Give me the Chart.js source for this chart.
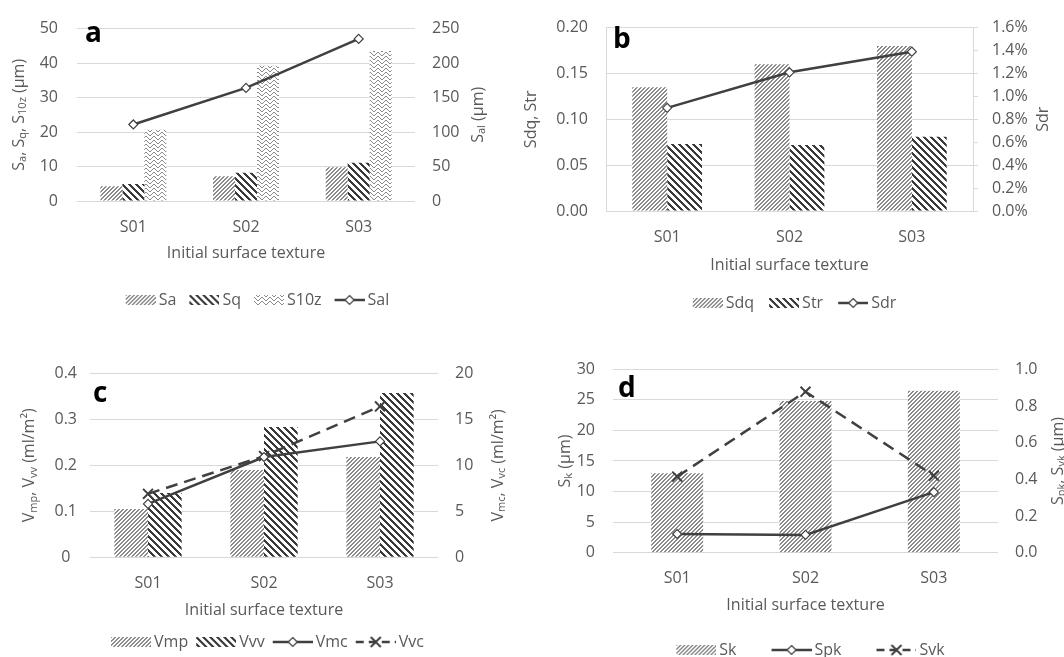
<!DOCTYPE html>
<html>
<head>
<meta charset="utf-8">
<script src="https://cdn.jsdelivr.net/npm/chart.js@4.4.1/dist/chart.umd.min.js"></script>
<style>
  html, body { margin: 0; padding: 0; background: #fff; overflow: hidden; }
  body { width: 1064px; height: 657px; position: relative; }
  canvas { position: absolute; display: block; }
</style>
</head>
<body>
<canvas id="chartA" style="left:0;top:0"></canvas>
<canvas id="chartB" style="left:520px;top:0"></canvas>
<canvas id="chartC" style="left:0;top:340px"></canvas>
<canvas id="chartD" style="left:552px;top:340px"></canvas>
<script>
const categories = ["S01", "S02", "S03"];

// panel a
const sa = [4.3, 7.2, 9.8];
const sq = [4.9, 8.2, 11.1];
const s10z = [20.7, 39.2, 43.5];
const sal = [111, 164, 235];

// panel b (sdr in %)
const sdq = [0.135, 0.160, 0.180];
const str = [0.073, 0.072, 0.081];
const sdr = [0.90, 1.21, 1.39];

// panel c
const vmp = [0.105, 0.190, 0.218];
const vvv = [0.140, 0.283, 0.357];
const vmc = [5.8, 10.9, 12.6];
const vvc = [6.9, 11.0, 16.4];

// panel d
const sk = [13.0, 24.8, 26.5];
const spk = [0.102, 0.097, 0.33];
const svk = [0.415, 0.878, 0.42];

const GRID = "#d9d9d9";
const TEXT = "#595959";
const INK = "#404040";
const FONT = '"Open Sans", "Noto Sans", sans-serif';
const FS = 16;
const LH = FS * 1.2;

Chart.defaults.font.family = FONT;
Chart.defaults.font.size = FS;
Chart.defaults.color = TEXT;

// pattern tiles, roughly like the excel fills
function tileLight() {
  const c = document.createElement("canvas");
  c.width = 4; c.height = 4;
  const g = c.getContext("2d");
  g.fillStyle = "#fff"; g.fillRect(0, 0, 4, 4);
  g.fillStyle = "#8a8a8a";
  for (let y = 0; y < 4; y++) {
    g.fillRect((3 - y) % 4, y, 1, 1);
    g.fillRect((4 - y) % 4, y, 1, 1);
  }
  return c;
}

function tileWide() {
  const p = 7;
  const c = document.createElement("canvas");
  c.width = p; c.height = p;
  const g = c.getContext("2d");
  g.fillStyle = "#fff"; g.fillRect(0, 0, p, p);
  g.fillStyle = "#3a3a3a";
  for (let y = 0; y < p; y++) {
    for (let k = 0; k < 3; k++) g.fillRect((y + k) % p, y, 1, 1);
  }
  return c;
}

function tileWave() {
  const c = document.createElement("canvas");
  c.width = 8; c.height = 4;
  const g = c.getContext("2d");
  g.fillStyle = "#fff"; g.fillRect(0, 0, 8, 4);
  g.fillStyle = "#8a8a8a";
  const ys = [1, 0, 0, 1, 2, 3, 3, 2];
  ys.forEach((y, x) => g.fillRect(x, y, 1, 1));
  return c;
}

const LIGHT = tileLight();
const WIDE = tileWide();
const WAVE = tileWave();

function drawMarker(g, kind, x, y) {
  g.save();
  g.setLineDash([]);
  if (kind === "diamond") {
    g.beginPath();
    g.moveTo(x, y - 4.5); g.lineTo(x + 4.5, y); g.lineTo(x, y + 4.5); g.lineTo(x - 4.5, y);
    g.closePath();
    g.fillStyle = "#fff"; g.fill();
    g.strokeStyle = INK; g.lineWidth = 1.2; g.stroke();
  } else {
    g.beginPath();
    g.moveTo(x - 5, y - 5); g.lineTo(x + 5, y + 5);
    g.moveTo(x - 5, y + 5); g.lineTo(x + 5, y - 5);
    g.strokeStyle = INK; g.lineWidth = 2; g.stroke();
  }
  g.restore();
}

// legend picture: shifted right so it sits next to its text
function makeIcon(spec, boxW) {
  const s = 5;
  const c = document.createElement("canvas");
  c.width = Math.round(boxW + 2 * s); c.height = 14;
  const g = c.getContext("2d");
  const x0 = 2 * s;
  if (spec.tile) {
    g.fillStyle = g.createPattern(spec.tile, "repeat");
    g.fillRect(x0, 2, boxW, 10);
  } else {
    g.strokeStyle = INK; g.lineWidth = 2.5;
    g.setLineDash(spec.dash || []);
    g.beginPath(); g.moveTo(x0, 7); g.lineTo(x0 + boxW, 7); g.stroke();
    drawMarker(g, spec.marker, x0 + boxW / 2, 7);
  }
  return c;
}

function drawRuns(ctx, cx, cy, runs) {
  ctx.save();
  ctx.translate(cx, cy);
  ctx.rotate(-Math.PI / 2);
  ctx.fillStyle = TEXT;
  ctx.textBaseline = "middle";
  ctx.textAlign = "left";
  const main = FS + "px " + FONT, sub = "11px " + FONT;
  let total = 0;
  runs.forEach(r => { ctx.font = r[1] ? sub : main; total += ctx.measureText(r[0]).width; });
  let x = -total / 2;
  runs.forEach(r => {
    ctx.font = r[1] ? sub : main;
    ctx.fillText(r[0], x, r[1] ? 4 : 0);
    x += ctx.measureText(r[0]).width;
  });
  ctx.restore();
}

const axisTitles = {
  id: "axisTitles",
  afterDraw(chart, args, opts) {
    const ctx = chart.ctx;
    const a = chart.chartArea;
    const cy = (a.top + a.bottom) / 2;
    drawRuns(ctx, opts.leftX, cy, opts.left);
    drawRuns(ctx, opts.rightX, cy, opts.right);
    ctx.save();
    ctx.font = "bold 28px " + FONT;
    ctx.fillStyle = "#000";
    ctx.textBaseline = "alphabetic";
    ctx.fillText(opts.letter, opts.letterX, opts.letterY);
    ctx.restore();
  }
};

function barSet(label, data, tile) {
  return { type: "bar", label, data, yAxisID: "y", order: 1, borderWidth: 0, _tile: tile };
}

function lineSet(label, data, dashed) {
  return {
    type: "line", label, data, yAxisID: "y1", order: 0,
    borderColor: INK, borderWidth: 2.5, borderDash: dashed ? [12, 7] : [],
    pointStyle: dashed ? "crossRot" : "rectRot",
    pointRadius: dashed ? 7 : 4.5,
    pointBackgroundColor: "#fff", pointBorderColor: INK,
    pointBorderWidth: dashed ? 2 : 1.2,
    fill: false, tension: 0
  };
}

function panel(id, geo, datasets, yLeft, yRight, titles) {
  const canvas = document.getElementById(id);
  canvas.width = geo.W; canvas.height = geo.H;
  const ctx = canvas.getContext("2d");
  const pb = geo.H - geo.legendY - 10 - FS / 2;
  const legendTop = geo.legendY - geo.legendPad - FS / 2;

  const icons = datasets.map(ds => makeIcon(
    ds.type === "bar" ? { tile: ds._tile } : { dash: ds.borderDash.length ? [8, 5] : null, marker: ds.borderDash.length ? "cross" : "diamond" },
    geo.box));
  datasets.forEach(ds => {
    if (ds.type === "bar") {
      ds.backgroundColor = ctx.createPattern(ds._tile, "repeat");
      delete ds._tile;
    }
  });

  return new Chart(ctx, {
    type: "bar",
    data: { labels: categories, datasets },
    plugins: [axisTitles],
    options: {
      responsive: false,
      animation: false,
      events: [],
      layout: { padding: { top: geo.T, bottom: pb, left: 0, right: 0 } },
      datasets: { bar: { categoryPercentage: geo.group, barPercentage: 1 } },
      scales: {
        x: {
          grid: { display: false, drawTicks: false },
          border: { display: false },
          ticks: { padding: geo.labelY - geo.B - LH / 2 },
          title: {
            display: true, text: "Initial surface texture", color: TEXT,
            padding: { top: 0, bottom: legendTop - geo.titleY - LH / 2 }
          },
          afterFit: s => { s.height = legendTop - geo.B; }
        },
        y: {
          position: "left", min: 0, max: yLeft.max,
          grid: { color: GRID, drawTicks: false },
          border: { display: !!yLeft.border, color: GRID },
          ticks: { stepSize: yLeft.step, padding: yLeft.pad, crossAlign: yLeft.align || "near", callback: yLeft.fmt },
          afterFit: s => { s.width = geo.L; }
        },
        y1: {
          position: "right", min: 0, max: yRight.max,
          grid: { drawOnChartArea: false, drawTicks: !!yRight.border, tickLength: 5, color: GRID },
          border: { display: !!yRight.border, color: GRID },
          ticks: { stepSize: yRight.step, padding: yRight.pad, callback: yRight.fmt },
          afterFit: s => { s.width = geo.W - geo.R; }
        }
      },
      plugins: {
        tooltip: { enabled: false },
        legend: {
          position: "bottom",
          labels: {
            usePointStyle: true,
            pointStyleWidth: geo.box,
            boxHeight: 10,
            padding: geo.legendPad,
            color: TEXT,
            font: { size: FS },
            generateLabels: chart => chart.data.datasets.map((ds, i) => ({
              text: ds.label, pointStyle: icons[i], datasetIndex: i, hidden: false,
              fillStyle: "rgba(0,0,0,0)", strokeStyle: "rgba(0,0,0,0)", lineWidth: 0, fontColor: TEXT
            }))
          }
        },
        axisTitles: titles
      }
    }
  });
}

const plain = v => String(v);

panel("chartA",
  { W: 510, H: 330, L: 77, R: 415, T: 17, B: 201, labelY: 227, titleY: 253, legendY: 300, legendPad: 8, box: 30, group: 0.585 },
  [barSet("Sa", sa, LIGHT), barSet("Sq", sq, WIDE), barSet("S10z", s10z, WAVE), lineSet("Sal", sal, false)],
  { max: 50, step: 10, pad: 19, fmt: plain },
  { max: 250, step: 50, pad: 17, fmt: plain },
  {
    leftX: 19, rightX: 478,
    left: [["S"], ["a", 1], [", S"], ["q", 1], [", S"], ["10z", 1], [" (µm)"]],
    right: [["S"], ["al", 1], [" (µm)"]],
    letter: "a", letterX: 85, letterY: 42
  });

panel("chartB",
  { W: 544, H: 330, L: 86, R: 453, T: 17, B: 211, labelY: 237, titleY: 265, legendY: 303, legendPad: 10, box: 30, group: 0.57 },
  [barSet("Sdq", sdq, LIGHT), barSet("Str", str, WIDE), lineSet("Sdr", sdr, false)],
  { max: 0.2, step: 0.05, pad: 18, border: true, fmt: v => v.toFixed(2) },
  { max: 1.6, step: 0.2, pad: 14, border: true, fmt: v => v.toFixed(1) + "%" },
  {
    leftX: 11, rightX: 523,
    left: [["Sdq, Str"]],
    right: [["Sdr"]],
    letter: "b", letterX: 93, letterY: 48
  });

panel("chartC",
  { W: 530, H: 322, L: 90, R: 438, T: 33.3, B: 217.3, labelY: 243, titleY: 270, legendY: 302, legendPad: 3, box: 40, group: 0.58 },
  [barSet("Vmp", vmp, LIGHT), barSet("Vvv", vvv, WIDE), lineSet("Vmc", vmc, false), lineSet("Vvc", vvc, true)],
  { max: 0.4, step: 0.1, pad: 13, align: "center", fmt: plain },
  { max: 20, step: 5, pad: 17, fmt: plain },
  {
    leftX: 29.5, rightX: 498,
    left: [["V"], ["mp", 1], [", V"], ["vv", 1], [" (ml/m²)"]],
    right: [["V"], ["mc", 1], [", V"], ["vc", 1], [" (ml/m²)"]],
    letter: "c", letterX: 93, letterY: 62
  });

panel("chartD",
  { W: 512, H: 330, L: 61, R: 446, T: 29.3, B: 212.7, labelY: 238, titleY: 265, legendY: 310, legendPad: 30, box: 40, group: 0.405 },
  [barSet("Sk", sk, LIGHT), lineSet("Spk", spk, false), lineSet("Svk", svk, true)],
  { max: 30, step: 5, pad: 18, fmt: plain },
  { max: 1, step: 0.2, pad: 17, fmt: v => v.toFixed(1) },
  {
    leftX: 13, rightX: 506,
    left: [["S"], ["k", 1], [" (µm)"]],
    right: [["S"], ["pk", 1], [", S"], ["vk", 1], [" (µm)"]],
    letter: "d", letterX: 66, letterY: 57
  });
</script>
</body>
</html>
